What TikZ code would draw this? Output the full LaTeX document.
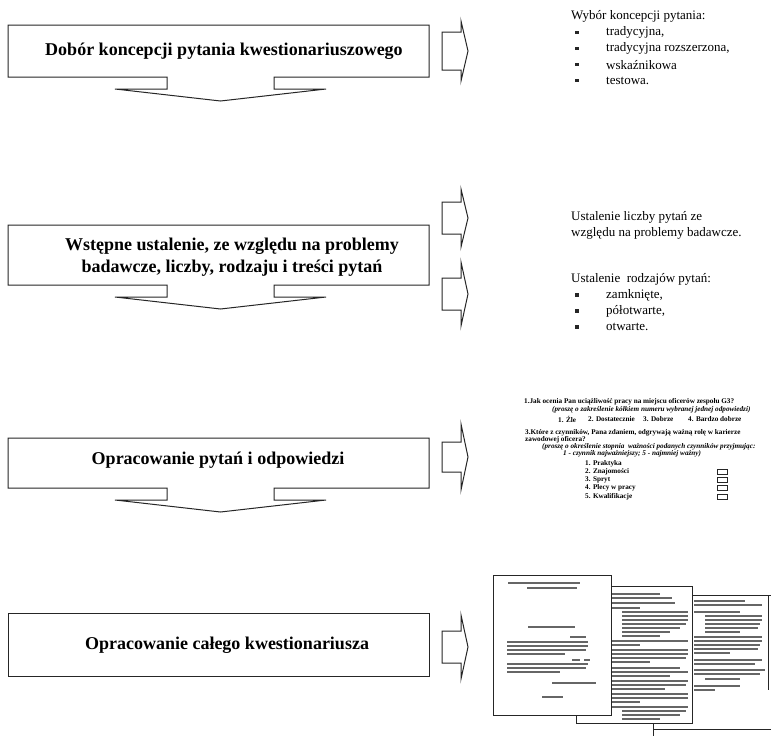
\documentclass[tikz,border=0pt]{standalone}
\usepackage{fontspec}
\setmainfont{Liberation Serif}
\usetikzlibrary{positioning}

\begin{document}
\begin{tikzpicture}[x=1pt, y=-1pt, line join=miter]
            \tikzset{
                flow/.style={
                        draw=black!85, line width=1pt, fill=white
                    },
                title/.style={
                        font=\fontsize{18}{22}\selectfont\bfseries, align=center, inner sep=0pt
                    },
                note/.style={
                        font=\fontsize{13}{16}\selectfont, anchor=west, inner sep=0pt
                    },
                bul/.style={
                        fill=black!85, minimum size=3.2pt, inner sep=0pt
                    },
                quest/.style={
                        font=\fontsize{7.2}{8}\selectfont\bfseries, anchor=west, inner sep=0pt
                    },
                questit/.style={
                        quest, font=\fontsize{7.2}{8}\selectfont\bfseries\itshape
                    },
                tickbox/.style={
                        draw=black!85, line width=0.7pt, minimum width=10pt, minimum height=5pt, inner sep=0pt
                    },
                page/.style={
                        draw=black!85, line width=0.9pt
                    },
                scrib/.style={
                        black!60, line width=1.2pt
                    }
            }
            \clip (0,0) rectangle (771,736);

            % Steps with arrow down
            \foreach \t/\b in {25/77, 225/285, 438/488}
                \draw[flow] (8,\t) -- (429,\t) -- (429,\b) -- (274,\b) -- (274,\b+12) -- (326,\b+12)
                    -- (220.5,\b+24) -- (115,\b+12) -- (167,\b+12) -- (167,\b) -- (8,\b) -- cycle;
            % Last step
            \draw[flow] (8,613) rectangle (429,676);

            \node[title] (choice) at (224,51) {Dobór koncepcji pytania kwestionariuszowego};
            \node[title] (prelim) at (232,257) {Wstępne ustalenie, ze względu na problemy\\badawcze, liczby, rodzaju i treści pytań};
            \node[title] (answers) at (218,460) {Opracowanie pytań i odpowiedzi};
            \node[title] (whole) at (227,645) {Opracowanie całego kwestionariusza};

            % Arrows to the right
            \foreach \c/\b/\h in {51/19/30, 218/16/29, 294/16/32, 457/15/33, 647/16/32}
                \draw[flow] (442,\c-\b) -- (461,\c-\b) -- (461,\c-\h) -- (468,\c) -- (461,\c+\h)
                    -- (461,\c+\b) -- (442,\c+\b) -- cycle;

            % Notes of step 1
            \node[note] (kinds) at (571,16) {Wybór koncepcji pytania:};
            \foreach \txt [count=\i] in {{tradycyjna,},{tradycyjna rozszerzona,},wskaźnikowa,testowa.} {
                \node[bul] (kb\i) at (577,16+16.2*\i) {};
                \node[note] (k\i) at (606,16+16.2*\i) {\txt};
            }

            % Notes of step 2
            \node[note] (count1) at (571,217) {Ustalenie liczby pytań ze};
            \node[note] (count2) at (571,233) {względu na problemy badawcze.};
            \node[note] (types) at (571,279) {Ustalenie\ \ rodzajów pytań:};
            \foreach \txt [count=\i] in {{zamknięte,},{półotwarte,},{otwarte.}} {
                \node[bul] (tb\i) at (577,279+16*\i) {};
                \node[note] (t\i) at (606,279+16*\i) {\txt};
            }

            % Sample questions
            \node[quest] (q1) at (524,402) {1.Jak ocenia Pan uciążliwość pracy na miejscu oficerów zespołu G3?};
            \node[questit] (q1a) at (552,410) {(proszę o zakreślenie kółkiem numeru wybranej jednej odpowiedzi)};
            \node[quest] (o1) at (558,419) {1. Źle};
            \node[quest] (o2) at (588,419) {2. Dostatecznie};
            \node[quest] (o3) at (643,419) {3. Dobrze};
            \node[quest] (o4) at (688,419) {4. Bardzo dobrze};
            \node[quest] (q2) at (525,433) {3.Które z czynników, Pana zdaniem, odgrywają ważną rolę w karierze};
            \node[quest] (q2b) at (525,440) {zawodowej oficera?};
            \node[questit] (q2c) at (542,447) {(proszę o określenie stopnia\ \ ważności podanych czynników przyjmując:};
            \node[questit] (q2d) at (563,454) {1 - czynnik najważniejszy; 5 - najmniej ważny)};
            \foreach \txt [count=\i] in {Praktyka,Znajomości,Spryt,Plecy w pracy,Kwalifikacje}
                \node[quest] (f\i) at (585,455+8.3*\i) {\i. \txt};
            \foreach \i in {2,...,5}
                \node[tickbox] (box\i) at (722,455+8.3*\i) {};

            % Pages of the questionnaire
            \draw[page] (653,740) -- (653,595) -- (775,595);
            \draw[page] (768,595) -- (768,690);
            \draw[page] (653,729) -- (775,729);
            \foreach \y/\a/\e in {601/694/745, 605/694/762, 612/694/740, 616/705/762, 620/705/762, 624/705/760,
                628/705/758, 632/705/740, 637/694/762, 641/694/762, 645/694/760, 649/694/758, 653/694/730,
                660/694/762, 664/694/755, 670/694/765, 674/694/760, 679/705/740, 686/694/740, 690/694/715}
                \draw[scrib] (\a,\y) -- (\e,\y);

            \draw[page, fill=white] (576,586) rectangle (692,723);
            \foreach \y/\a/\e in {594/612/660, 598/612/672, 603/612/675, 608/612/640, 612/622/688, 616/622/688,
                620/622/688, 624/622/686, 628/622/680, 632/622/670, 636/622/660, 641/612/688, 645/612/640,
                650/612/688, 654/612/688, 658/612/686, 662/612/650, 668/612/680, 672/612/688, 676/612/670,
                681/612/688, 685/612/686, 689/612/665, 694/612/688, 698/612/688, 702/612/640, 707/612/688,
                711/622/686, 715/622/680, 719/622/660}
                \draw[scrib] (\a,\y) -- (\e,\y);

            \draw[page, fill=white] (493,575) rectangle (611,715);
            \foreach \y/\a/\e in {583/508/580, 588/527/577, 627/528/575, 637/570/586, 642/507/588, 646/507/588,
                650/507/586, 654/507/565, 660/572/580, 660/584/590, 664/507/588, 668/507/586, 672/507/560,
                683/552/596, 697/542/563}
                \draw[scrib] (\a,\y) -- (\e,\y);
        \end{tikzpicture}
\end{document}
